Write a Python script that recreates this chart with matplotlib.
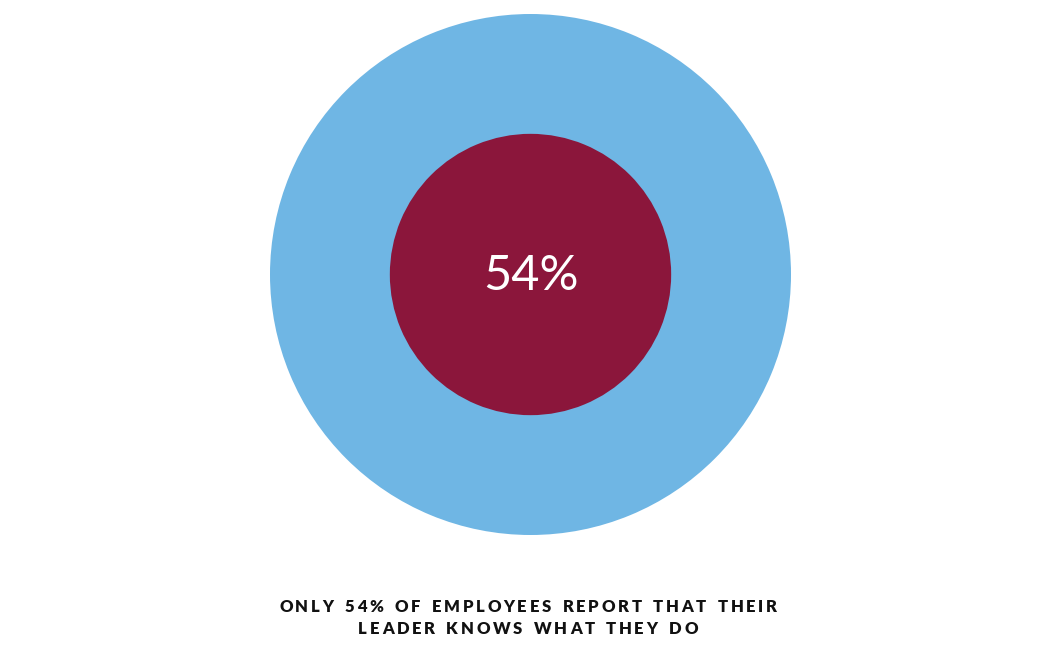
import matplotlib.pyplot as plt

# data
share = 54
label = "54%"
caption = ["ONLY 54% OF EMPLOYEES REPORT THAT THEIR",
           "LEADER KNOWS WHAT THEY DO"]

W, H = 1061, 663
cx, cy = 530.5, 274.5
R = 260.5

fig = plt.figure(figsize=(W / 100, H / 100), dpi=100)
ax = fig.add_axes([0, 0, 1, 1])

ax.pie([1], radius=R, center=(cx, cy), colors=['#6fb6e4'],
       wedgeprops=dict(linewidth=0), frame=True)
ax.pie([1], radius=R * share / 100, center=(cx, cy), colors=['#8b163b'],
       wedgeprops=dict(linewidth=0), frame=True)
ax.set_xlim(0, W)
ax.set_ylim(H, 0)
ax.set_aspect('equal')
ax.axis('off')

ax.text(cx, cy + 1, label, color='white', fontsize=35, family=['Lato', 'DejaVu Sans'],
        fontweight='normal', ha='center', va='center')

# caption with letter spacing, one glyph at a time
renderer = fig.canvas.get_renderer()
track = 2.7
cap_font = dict(color='#111111', fontsize=12, family=['Lato', 'DejaVu Sans'],
                fontweight='heavy', va='center', ha='left')
space_w = 6.0
for i, line in enumerate(caption):
    y = 607 + i * 22
    widths = []
    for ch in line:
        if ch == " ":
            widths.append(space_w)
        else:
            t = ax.text(0, 0, ch, **cap_font)
            widths.append(t.get_window_extent(renderer).width)
            t.remove()
    total = sum(widths) + track * (len(line) - 1)
    x = 528 - total / 2
    for ch, w in zip(line, widths):
        if ch != " ":
            ax.text(x, y, ch, **cap_font)
        x += w + track

fig.savefig('out.png', dpi=100)
